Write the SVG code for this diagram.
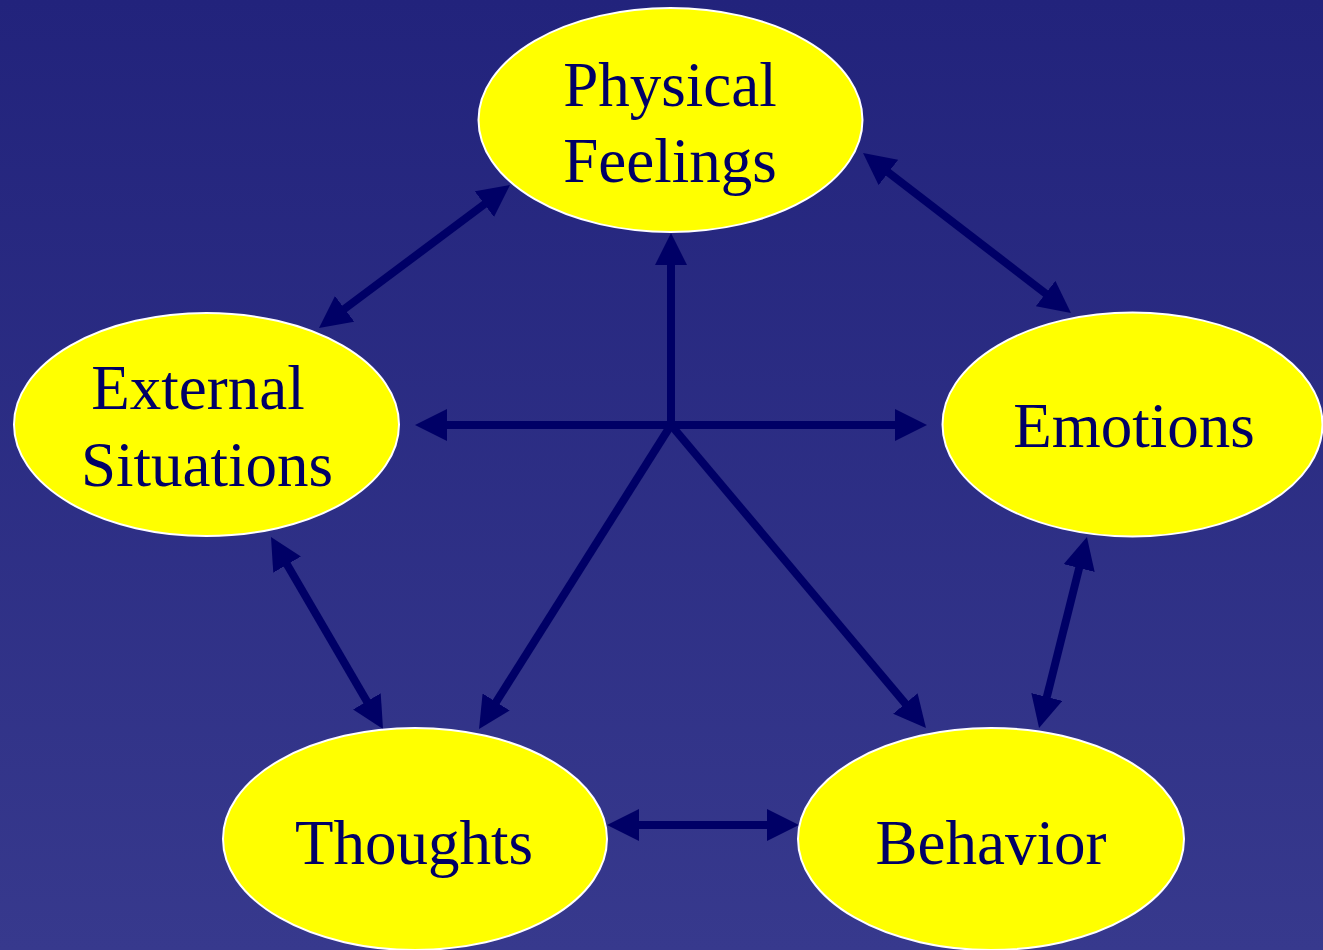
<svg xmlns="http://www.w3.org/2000/svg" width="1323" height="950" viewBox="0 0 1323 950">
  <defs>
    <linearGradient id="bg" x1="0" y1="0" x2="0" y2="1">
      <stop offset="0" stop-color="#22237c"/>
      <stop offset="1" stop-color="#37398d"/>
    </linearGradient>
    <marker id="head" viewBox="0 0 4 4" markerWidth="4" markerHeight="4" markerUnits="strokeWidth" refX="0.125" refY="2" orient="auto-start-reverse">
      <path d="M0,0 L4,2 L0,4 Z" fill="#000066"/>
    </marker>
  </defs>
  <style>
    .node ellipse { fill: #ffff00; stroke: #ffffff; stroke-width: 2; }
    .node text { font-family: "Liberation Serif", "Times New Roman", serif; font-size: 63px; fill: #000066; text-anchor: middle; }
    .link { stroke: #000066; stroke-width: 8; fill: none; stroke-linecap: butt; }
    .one { marker-end: url(#head); }
    .two { marker-start: url(#head); marker-end: url(#head); }
  </style>

  <rect x="0" y="0" width="1323" height="950" fill="url(#bg)"/>

  <g id="connectors">
    <!-- hub lines from the centre -->
    <line class="link one" x1="671" y1="425" x2="671" y2="264"/>
    <line class="link two" x1="446" y1="425" x2="896" y2="425"/>
    <line class="link one" x1="671" y1="425" x2="495.6" y2="702.8"/>
    <line class="link one" x1="671" y1="425" x2="906" y2="704.3"/>
    <!-- ring of two-way links -->
    <line class="link two" x1="485.2" y1="203.6" x2="343.8" y2="309.4"/>
    <line class="link two" x1="887.6" y1="171.9" x2="1046.4" y2="294.1"/>
    <line class="link two" x1="286.6" y1="563.8" x2="367.4" y2="702.2"/>
    <line class="link two" x1="1079.4" y1="567.1" x2="1046.6" y2="697.9"/>
    <line class="link two" x1="638" y1="825" x2="768" y2="825"/>
  </g>

  <g id="physical-feelings" class="node">
    <ellipse cx="670.5" cy="120" rx="192" ry="112"/>
    <text x="670" y="106">Physical</text>
    <text x="670" y="182">Feelings</text>
  </g>

  <g id="external-situations" class="node">
    <ellipse cx="206.5" cy="424.5" rx="192.5" ry="111.5"/>
    <text x="198" y="409">External</text>
    <text x="207" y="486">Situations</text>
  </g>

  <g id="emotions" class="node">
    <ellipse cx="1132.5" cy="424.5" rx="190" ry="112"/>
    <text x="1134" y="447">Emotions</text>
  </g>

  <g id="thoughts" class="node">
    <ellipse cx="415" cy="839" rx="192" ry="111"/>
    <text x="414" y="864">Thoughts</text>
  </g>

  <g id="behavior" class="node">
    <ellipse cx="991" cy="839" rx="193" ry="111"/>
    <text x="991" y="864">Behavior</text>
  </g>
</svg>
